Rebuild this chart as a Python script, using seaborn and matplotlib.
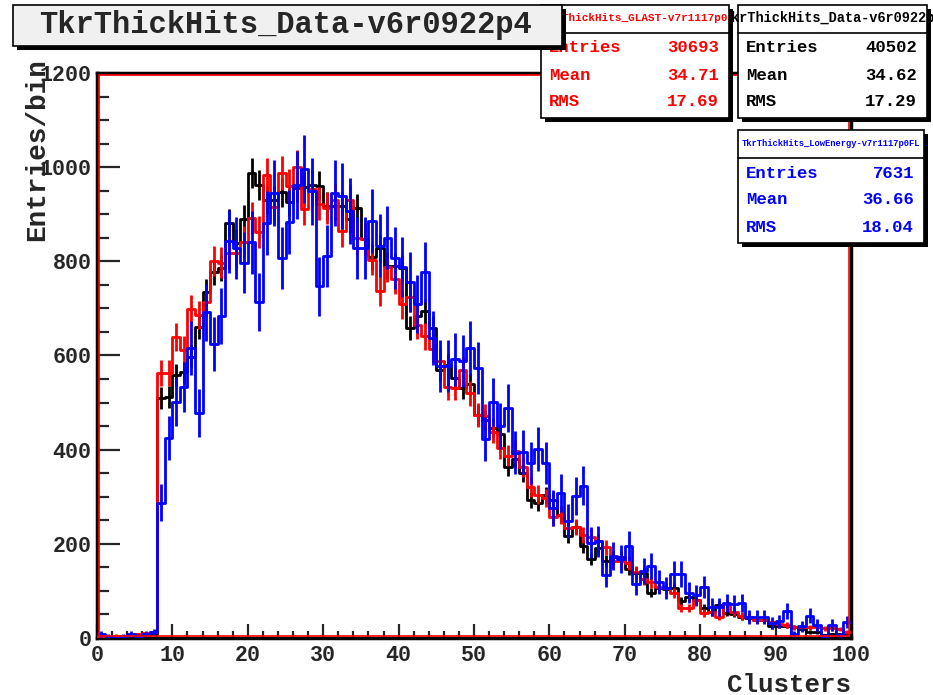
import numpy as np
import pandas as pd
import matplotlib
matplotlib.use("Agg")
import matplotlib.pyplot as plt
from matplotlib.patches import Rectangle
from matplotlib.ticker import MultipleLocator
import seaborn as sns

# bin contents (100 bins, 0..100 clusters)
data_v6 = [3, 2, 4, 3, 5, 6, 7, 9,
           510, 512, 558, 565, 597, 661, 735, 777, 786, 881, 839, 890,
           987, 962, 930, 930, 947, 926, 956, 958, 962, 961,
           918, 918, 918, 890, 913, 847, 809, 828, 790, 790,
           786, 658, 684, 694, 658, 569, 580, 552, 531, 539,
           474, 463, 446, 433, 363, 380, 350, 293, 287, 304,
           293, 261, 217, 236, 195, 168, 191, 164, 172, 172,
           146, 138, 138, 96, 106, 105, 106, 79, 87, 80,
           64, 55, 70, 53, 51, 45, 43, 38, 38, 25,
           26, 26, 23, 19, 13, 13, 6, 8, 8, 8]
glast_v7 = [4, 3, 5, 4, 6, 8, 10, 12,
            563, 563, 639, 612, 699, 686, 714, 801, 797, 817, 817, 841,
            892, 862, 983, 916, 987, 960, 1000, 911, 954, 922,
            913, 930, 864, 930, 850, 847, 803, 737, 788, 762,
            709, 724, 665, 641, 614, 589, 533, 531, 569, 520,
            474, 472, 438, 403, 387, 397, 363, 321, 304, 297,
            257, 261, 234, 236, 219, 215, 205, 193, 164, 164,
            159, 140, 125, 119, 108, 106, 96, 64, 64, 81,
            53, 55, 45, 72, 55, 47, 45, 38, 38, 34,
            30, 28, 23, 23, 23, 23, 21, 21, 19, 13]
lowen_v7 = [8, 4, 0, 4, 8, 4, 8, 12,
            287, 425, 501, 533, 616, 478, 692, 624, 684, 843, 828, 797,
            840, 714, 881, 945, 807, 884, 962, 996, 949, 747,
            811, 945, 939, 907, 828, 828, 886, 833, 850, 807,
            788, 756, 709, 777, 637, 578, 578, 592, 588, 616,
            573, 423, 501, 450, 488, 393, 395, 371, 401, 371,
            276, 308, 249, 302, 323, 202, 205, 134, 174, 167,
            195, 115, 142, 153, 119, 106, 136, 136, 96, 91,
            108, 66, 66, 74, 72, 74, 45, 45, 45, 32,
            36, 57, 8, 25, 47, 28, 4, 28, 6, 34]

names = ["TkrThickHits_Data-v6r0922p4", "TkrThickHits_GLAST-v7r1117p0",
         "TkrThickHits_LowEnergy-v7r1117p0FL"]
entries = [40502, 30693, 7631]
means = ["34.62", "34.71", "36.66"]
rmss = ["17.29", "17.69", "18.04"]
colors = ["black", "#ff0000", "#0000ff"]

centers = np.arange(100) + 0.5

sns.set_style("ticks")
plt.rcParams["font.family"] = ["Liberation Mono", "DejaVu Sans Mono"]
plt.rcParams["font.weight"] = "bold"

W, H = 933, 695
fig = plt.figure(figsize=(W / 100, H / 100), dpi=100)


def fx(x):
    return x / W


def fy(y):
    return 1 - y / H


ax = fig.add_axes([fx(97), fy(638), (851 - 97) / W, (638 - 73) / H])

series = [data_v6, glast_v7, lowen_v7]
for i, vals in enumerate(series):
    df = pd.DataFrame({"Clusters": centers, "n": np.array(vals, dtype=float)})
    sns.histplot(data=df, x="Clusters", weights="n", bins=100, binrange=(0, 100),
                 element="step", fill=False, color=colors[i], linewidth=2,
                 ax=ax, zorder=2 + i)
    # errors scaled to the data entries
    scale = entries[0] / entries[i]
    err = np.sqrt(df["n"] * scale)
    ax.errorbar(centers, df["n"], yerr=err, fmt="none", ecolor=colors[i],
                elinewidth=2, capsize=0, zorder=2 + i)

ax.set_xlim(0, 100)
ax.set_ylim(0, 1200)
ax.set_xlabel("")
ax.set_ylabel("")
ax.xaxis.set_major_locator(MultipleLocator(10))
ax.xaxis.set_minor_locator(MultipleLocator(2))
ax.yaxis.set_major_locator(MultipleLocator(200))
ax.yaxis.set_minor_locator(MultipleLocator(50))
ax.tick_params(axis="x", which="major", direction="in", length=10, width=1.6,
               labelsize=15.6, pad=5)
ax.tick_params(axis="x", which="minor", direction="in", length=5, width=1.6)
ax.tick_params(axis="y", which="major", direction="in", length=16.5, width=1.6,
               labelsize=15.6, pad=4)
ax.tick_params(axis="y", which="minor", direction="in", length=8.5, width=1.6)
for lab in ax.get_xticklabels() + ax.get_yticklabels():
    lab.set_fontweight("bold")
for sp in ax.spines.values():
    sp.set_visible(True)
    sp.set_linewidth(2.5)
    sp.set_color("black")
ax.add_patch(Rectangle((0.003, 0.003), 0.994, 0.994, transform=ax.transAxes,
                       fill=False, ec="#ff0000", lw=1.2, zorder=6, clip_on=False))

fig.text(fx(37), fy(58), "Entries/bin", rotation=90, ha="center", va="top",
         fontsize=20, fontweight="bold")
fig.text(fx(851), fy(692), "Clusters", ha="right", va="baseline",
         fontsize=18.6, fontweight="bold")


def box(x0, y0, x1, y1, z, face="white", shadow=4):
    fig.add_artist(Rectangle((fx(x0 + shadow), fy(y1 + shadow)), (x1 - x0) / W,
                             (y1 - y0) / H, transform=fig.transFigure,
                             fc="black", ec="black", lw=0, zorder=z))
    fig.add_artist(Rectangle((fx(x0), fy(y1)), (x1 - x0) / W, (y1 - y0) / H,
                             transform=fig.transFigure, fc=face, ec="black",
                             lw=1.2, zorder=z + 0.1))


def stat_box(i, x0, y0, x1, y1, hdr_x, hdr_ha, hdr_size, z):
    c = colors[i]
    box(x0, y0, x1, y1, z)
    sep = y0 + 28
    fig.add_artist(plt.Line2D([fx(x0), fx(x1)], [fy(sep), fy(sep)],
                              transform=fig.transFigure, color="black",
                              lw=1.2, zorder=z + 0.2))
    fig.text(fx(hdr_x), fy(y0 + 13), names[i], ha=hdr_ha, va="center",
             fontsize=hdr_size, color=c, fontweight="bold", zorder=z + 0.3)
    rows = [("Entries", str(entries[i])), ("Mean", means[i]), ("RMS", rmss[i])]
    for k, (lab, val) in enumerate(rows):
        yy = sep + 15 + k * 27
        fig.text(fx(x0 + 8), fy(yy), lab, ha="left", va="center",
                 fontsize=12.4, color=c, fontweight="bold", zorder=z + 0.3)
        fig.text(fx(x1 - 10), fy(yy), val, ha="right", va="center",
                 fontsize=12.4, color=c, fontweight="bold", zorder=z + 0.3)


stat_box(0, 738, 5, 927, 118, 724, "left", 9.8, 10)
stat_box(1, 541, 5, 729, 118, 635, "center", 7.9, 11)
stat_box(2, 738, 130, 924, 243, 831, "center", 6.3, 10)

box(13, 5, 562, 46, 12, face="#f0f0f0", shadow=4)
fig.text(fx(286), fy(25), names[0], ha="center", va="center",
         fontsize=22, fontweight="bold", zorder=12.5)

fig.savefig("out.png", dpi=100)
